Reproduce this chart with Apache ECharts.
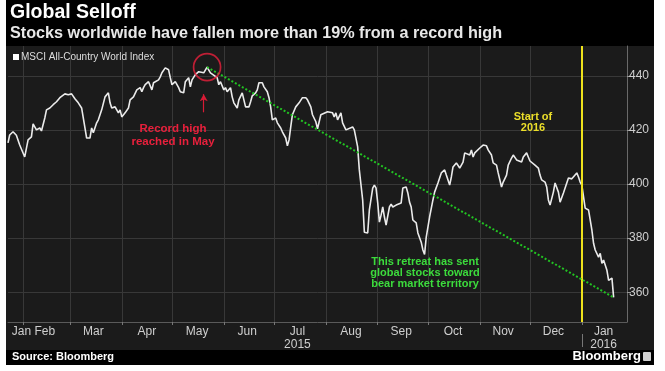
<!DOCTYPE html>
<html>
<head>
<meta charset="utf-8">
<script src="https://cdn.jsdelivr.net/npm/echarts@6/dist/echarts.min.js"></script>
<style>
html,body{margin:0;padding:0;background:#fff;}
#chart{width:665px;height:371px;}
</style>
</head>
<body>
<div id="chart"></div>
<script>
// ---- data ----
const seriesName = 'MSCI All-Country World Index';
const dates = [
'2015-01-23','2015-01-24','2015-01-26','2015-01-28','2015-01-30','2015-01-31',
'2015-02-02','2015-02-04','2015-02-06','2015-02-07','2015-02-09','2015-02-10','2015-02-11','2015-02-12','2015-02-14','2015-02-15','2015-02-17','2015-02-19','2015-02-21','2015-02-23','2015-02-26','2015-02-28',
'2015-03-02','2015-03-04','2015-03-06','2015-03-08','2015-03-09','2015-03-10','2015-03-11','2015-03-13','2015-03-14','2015-03-15','2015-03-17','2015-03-18','2015-03-20','2015-03-22','2015-03-24','2015-03-25','2015-03-26','2015-03-28','2015-03-30','2015-03-31',
'2015-04-01','2015-04-03','2015-04-05','2015-04-06','2015-04-08','2015-04-10','2015-04-12','2015-04-13','2015-04-14','2015-04-15','2015-04-17','2015-04-19','2015-04-20','2015-04-23','2015-04-24','2015-04-25','2015-04-27','2015-04-29','2015-04-30',
'2015-05-01','2015-05-03','2015-05-05','2015-05-06','2015-05-08','2015-05-09','2015-05-11','2015-05-12','2015-05-13','2015-05-15','2015-05-17','2015-05-18','2015-05-20','2015-05-22','2015-05-24','2015-05-25','2015-05-28','2015-05-29','2015-05-30',
'2015-06-01','2015-06-02','2015-06-03','2015-06-05','2015-06-06','2015-06-07','2015-06-09','2015-06-10','2015-06-12','2015-06-13','2015-06-14','2015-06-16','2015-06-17','2015-06-18','2015-06-20','2015-06-21','2015-06-22','2015-06-24','2015-06-25','2015-06-27','2015-06-28','2015-06-29','2015-06-30',
'2015-07-01','2015-07-02','2015-07-03','2015-07-05','2015-07-06','2015-07-08','2015-07-09','2015-07-10','2015-07-11','2015-07-12','2015-07-14','2015-07-16','2015-07-18','2015-07-20','2015-07-21','2015-07-23','2015-07-24','2015-07-26','2015-07-27','2015-07-29','2015-07-30',
'2015-08-02','2015-08-03','2015-08-05','2015-08-06','2015-08-07','2015-08-08','2015-08-09','2015-08-10','2015-08-11','2015-08-13','2015-08-14','2015-08-17','2015-08-18','2015-08-20','2015-08-21','2015-08-23','2015-08-24','2015-08-26','2015-08-27','2015-08-29','2015-08-30','2015-08-31',
'2015-09-01','2015-09-02','2015-09-03','2015-09-04','2015-09-05','2015-09-06','2015-09-07','2015-09-08','2015-09-09','2015-09-10','2015-09-12','2015-09-13','2015-09-15','2015-09-16','2015-09-18','2015-09-19','2015-09-20','2015-09-21','2015-09-22','2015-09-24','2015-09-25','2015-09-27','2015-09-28','2015-09-29','2015-09-30',
'2015-10-02','2015-10-04','2015-10-05','2015-10-07','2015-10-09','2015-10-11','2015-10-12','2015-10-14','2015-10-15','2015-10-16','2015-10-18','2015-10-20','2015-10-21','2015-10-22','2015-10-23','2015-10-24','2015-10-26','2015-10-27','2015-10-28','2015-10-29','2015-10-30',
'2015-11-01','2015-11-03','2015-11-05','2015-11-06','2015-11-08','2015-11-09','2015-11-10','2015-11-11','2015-11-12','2015-11-14','2015-11-15','2015-11-17','2015-11-18','2015-11-20','2015-11-21','2015-11-23','2015-11-24','2015-11-26','2015-11-27','2015-11-29','2015-11-30',
'2015-12-01','2015-12-02','2015-12-04','2015-12-06','2015-12-07','2015-12-08','2015-12-10','2015-12-11','2015-12-12','2015-12-13','2015-12-15','2015-12-16','2015-12-18','2015-12-19','2015-12-20','2015-12-21','2015-12-23','2015-12-24','2015-12-26','2015-12-27','2015-12-29','2015-12-30','2015-12-31',
'2016-01-01','2016-01-02','2016-01-03','2016-01-05','2016-01-06','2016-01-07','2016-01-08','2016-01-09','2016-01-11','2016-01-12','2016-01-13','2016-01-14','2016-01-16','2016-01-17','2016-01-18','2016-01-19','2016-01-20'
];
const values = [
415.2,418.1,419.3,418.0,414.4,413.7,
410.0,416.3,417.4,422.2,420.0,419.3,420.7,419.6,424.4,427.4,428.1,429.3,430.4,431.9,433.3,433.0,
433.3,431.5,430.0,428.1,424.4,420.7,417.0,417.0,420.7,418.9,422.6,423.7,427.4,432.2,433.7,430.0,428.1,428.5,426.3,427.4,
424.8,426.3,428.1,431.1,432.2,434.8,435.6,434.1,435.6,436.7,437.8,434.8,437.4,438.5,439.6,441.1,442.9,442.2,439.3,
436.7,437.8,435.6,434.1,433.7,437.8,439.3,435.9,438.5,440.4,441.5,442.2,441.1,443.2,441.1,441.5,439.3,436.7,437.8,
434.8,435.6,434.1,435.6,432.2,430.0,428.1,431.1,433.7,433.0,428.5,428.5,430.4,432.6,433.7,434.8,437.4,437.4,435.9,434.1,431.9,428.5,423.7,
423.0,424.4,422.6,420.7,419.3,417.0,414.1,416.3,421.1,425.6,428.5,430.0,431.9,431.9,431.1,428.5,425.6,423.0,420.4,425.6,426.3,
426.7,426.3,426.3,424.8,426.3,423.7,423.0,426.3,422.6,420.0,420.0,421.1,420.0,413.7,405.2,394.1,382.2,381.9,390.4,398.5,399.6,398.5,
393.0,385.9,388.5,391.5,387.8,384.8,384.4,391.5,392.6,391.5,392.2,391.5,393.0,398.5,398.9,396.7,393.3,391.5,386.7,385.6,381.9,378.5,375.6,374.0,380.4,
387.8,394.1,397.0,400.4,404.1,405.2,403.3,399.6,402.6,406.3,407.8,405.9,405.2,408.1,411.5,411.9,410.7,412.6,410.0,411.5,411.5,
413.3,414.4,414.1,412.6,410.7,407.8,407.8,407.0,404.1,398.9,400.7,403.3,407.0,409.6,410.7,408.9,409.6,408.1,410.0,411.5,410.0,
408.5,408.9,407.0,405.9,403.3,401.5,400.7,398.9,394.1,392.2,397.0,400.4,397.0,393.3,393.3,396.7,400.4,402.2,401.9,402.2,404.1,402.6,400.7,
399.6,398.9,391.1,390.4,386.7,383.0,378.1,375.6,373.0,374.4,370.7,371.9,368.1,364.4,363.7,365.2,358.1
];
const axisStart = '2015-01-23';
const axisEnd = '2016-01-28';
const monthStarts = ['2015-02-01','2015-03-01','2015-04-01','2015-05-01','2015-06-01','2015-07-01','2015-08-01','2015-09-01','2015-10-01','2015-11-01','2015-12-01','2016-01-01'];
const monthLabelDates = ['2015-01-31','2015-02-14','2015-03-15','2015-04-16','2015-05-16','2015-06-15','2015-07-15','2015-08-16','2015-09-15','2015-10-16','2015-11-15','2015-12-15','2016-01-14'];
const monthLabels = ['Jan','Feb','Mar','Apr','May','Jun','Jul\n2015','Aug','Sep','Oct','Nov','Dec','Jan\n2016'];
const yearStarts = ['2016-01-01'];
const yTicks = [360, 380, 400, 420, 440];
const yMin = 349, yMax = 451;
const startOf2016 = '2016-01-01';

// ---- chart ----
const FONT = '"Liberation Sans", Arial, sans-serif';
const ts = s => { const p = s.split('-').map(Number); return Date.UTC(p[0], p[1] - 1, p[2]); };
const seriesData = dates.map((d, i) => [ts(d), values[i]]);
let maxIdx = 0;
values.forEach((v, i) => { if (v > values[maxIdx]) maxIdx = i; });
const recordPt = [ts(dates[maxIdx]), values[maxIdx]];
const lastPt = [ts(dates[dates.length - 1]), values[values.length - 1]];
const labelTs = monthLabelDates.map(ts);
const xMin = ts(axisStart), xMax = ts(axisEnd);

const chart = echarts.init(document.getElementById('chart'), null, {renderer: 'canvas'});
chart.setOption({
  animation: false,
  backgroundColor: '#ffffff',
  textStyle: {fontFamily: FONT},
  graphic: [
    {type: 'rect', z: -10, shape: {x: 6, y: 0, width: 648, height: 46}, style: {fill: '#000'}},
    {type: 'rect', z: -10, shape: {x: 6, y: 46, width: 648, height: 304}, style: {fill: '#1b1b1b'}},
    {type: 'rect', z: -10, shape: {x: 6, y: 350, width: 648, height: 15}, style: {fill: '#000'}},
    {type: 'text', style: {x: 10, y: 3, text: 'Global Selloff', font: 'bold 19.5px ' + FONT, fill: '#fff'}},
    {type: 'text', style: {x: 10, y: 26, text: 'Stocks worldwide have fallen more than 19% from a record high', font: 'bold 16.2px ' + FONT, fill: '#e8e8e8'}},
    {type: 'text', style: {x: 12, y: 351, text: 'Source: Bloomberg', font: 'bold 11px ' + FONT, fill: '#fff'}},
    {type: 'text', style: {x: 641, y: 350, text: 'Bloomberg', font: 'bold 13px ' + FONT, fill: '#fff', textAlign: 'right'}},
    {type: 'rect', shape: {x: 643, y: 352, width: 8, height: 9, r: 1}, style: {fill: '#cfcfcf'}},
    {type: 'text', z: 20, style: {x: 173, y: 122, text: 'Record high\nreached in May', font: 'bold 11.5px ' + FONT, fill: '#e8203c', textAlign: 'center', lineHeight: 13}},
    {type: 'text', z: 20, style: {x: 533, y: 111, text: 'Start of\n2016', font: 'bold 11px ' + FONT, fill: '#ecdf2a', textAlign: 'center', lineHeight: 11}},
    {type: 'text', z: 20, style: {x: 425, y: 256, text: 'This retreat has sent\nglobal stocks toward\nbear market territory', font: 'bold 11px ' + FONT, fill: '#3cdc3c', textAlign: 'center', lineHeight: 11}}
  ],
  grid: {left: 8, right: 38, top: 46, bottom: 49, containLabel: false},
  legend: {
    data: [seriesName], left: 8, top: 50, icon: 'rect', itemWidth: 6, itemHeight: 6, itemGap: 4, padding: [2, 5],
    textStyle: {color: '#dedede', fontSize: 10, fontFamily: FONT, padding: [0, 0, 0, -3]}
  },
  xAxis: [
    {
      type: 'value', min: xMin, max: xMax,
      axisLine: {show: true, lineStyle: {color: '#5a5a5a'}},
      axisTick: {show: true, length: 3, customValues: monthStarts.map(ts), lineStyle: {color: '#777'}},
      axisLabel: {show: false, customValues: monthStarts.map(ts)},
      splitLine: {show: true, lineStyle: {color: '#383838', width: 1}}
    },
    {
      type: 'value', min: xMin, max: xMax, position: 'bottom',
      axisLine: {show: false}, axisTick: {show: false}, splitLine: {show: false},
      axisLabel: {
        show: true, customValues: labelTs, color: '#cfcfcf', fontSize: 12, lineHeight: 13, margin: 3, fontFamily: FONT,
        formatter: v => { const i = labelTs.indexOf(v); return i >= 0 ? monthLabels[i] : ''; }
      }
    },
    {
      type: 'value', min: xMin, max: xMax, position: 'bottom', offset: 12,
      axisLine: {show: false}, splitLine: {show: false},
      axisLabel: {show: false, customValues: yearStarts.map(ts)},
      axisTick: {show: true, length: 13, customValues: yearStarts.map(ts), lineStyle: {color: '#777'}}
    }
  ],
  yAxis: {
    type: 'value', position: 'right', min: yMin, max: yMax,
    axisLine: {show: true, lineStyle: {color: '#6a6a6a'}},
    axisTick: {show: true, length: 4, customValues: yTicks, lineStyle: {color: '#999'}},
    axisLabel: {customValues: yTicks, color: '#cfcfcf', fontSize: 12, margin: 2, fontFamily: FONT},
    splitLine: {show: true, lineStyle: {color: '#383838', width: 1}}
  },
  series: [
    {
      name: seriesName, type: 'line', data: seriesData, showSymbol: false, symbol: 'none',
      color: '#ffffff',
      lineStyle: {color: '#ebebeb', width: 1.6}, z: 3,
      markLine: {
        silent: true, symbol: 'none', label: {show: false}, animation: false, precision: 4,
        data: [
          {xAxis: ts(startOf2016), lineStyle: {color: '#eee21c', width: 2, type: 'solid'}},
          [{coord: recordPt, lineStyle: {color: '#22c322', width: 2, type: [2, 2]}}, {coord: lastPt}],
          [{coord: [ts('2015-05-20'), 426.5], symbol: 'none', lineStyle: {color: '#d81b35', width: 1.2, type: 'solid'}},
           {coord: [ts('2015-05-20'), 433.2], symbol: 'arrow', symbolSize: [6, 7]}]
        ]
      }
    },
    {
      name: 'record', type: 'scatter', data: [recordPt], symbol: 'circle', symbolSize: 27, z: 5,
      itemStyle: {color: 'rgba(0,0,0,0)', borderColor: '#e8203c', borderWidth: 1.7}, silent: true
    }
  ]
});
</script>
</body>
</html>
